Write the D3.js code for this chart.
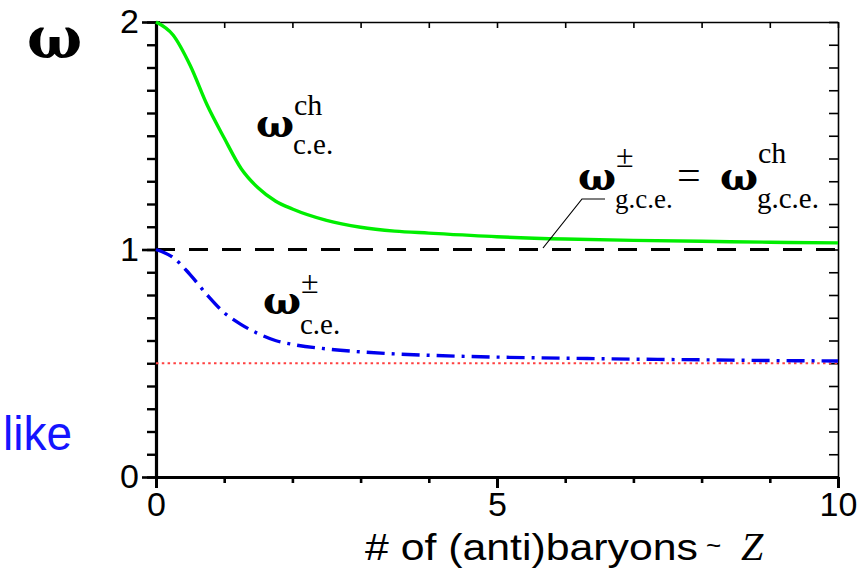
<!DOCTYPE html>
<html>
<head>
<meta charset="utf-8">
<script src="https://cdn.jsdelivr.net/npm/d3@7"></script>
<style>
  body { margin: 0; background: #fff; }
  svg { display: block; }
  .serif { font-family: 'Liberation Serif', 'DejaVu Serif', 'Times New Roman', serif; }
  .greek { font-family: 'DejaVu Serif', 'Liberation Serif', serif; }
  .sans { font-family: 'Liberation Sans', Arial, sans-serif; }
</style>
</head>
<body>
<div id="chart"></div>
<script>
// values
const nBaryons = [0, 0.25, 0.5, 0.75, 1, 1.25, 1.5, 1.75, 2, 2.5, 3, 3.5, 4, 5, 6, 7, 8, 9, 10]
const omegaCh = [2.0, 1.943, 1.81, 1.635, 1.49, 1.355, 1.27, 1.213, 1.178, 1.128, 1.098, 1.081, 1.072, 1.056, 1.046, 1.040, 1.036, 1.032, 1.029]
const omegaPm = [1.0, 0.965, 0.89, 0.80, 0.722, 0.67, 0.63, 0.60, 0.583, 0.563, 0.550, 0.541, 0.535, 0.527, 0.522, 0.518, 0.515, 0.512, 0.510]
const gceLevel = 1
const halfLevel = 0.5
const xTicks = [0, 5, 10]
const yTicks = [0, 1, 2]

const width = 866
const height = 570
const dim = { left: 156, right: 838, top: 22, bottom: 477 }

const svg = d3.select('#chart').append('svg')
    .attr('width', width).attr('height', height)

const x = d3.scaleLinear().domain([0, 10]).range([dim.left, dim.right])
const y = d3.scaleLinear().domain([0, 2]).range([dim.bottom, dim.top])

const minorY = d3.range(0, 21).map(d => d / 10)
const minorX = d3.range(0, 11)

// frame: top and right thin
const topAxis = svg.append('g').attr('transform', `translate(0,${dim.top})`)
    .call(d3.axisBottom(x).tickValues(minorX).tickSize(6).tickSizeOuter(0).tickFormat(''))
topAxis.select('.domain').attr('stroke-width', 1.6)
topAxis.selectAll('.tick line').attr('stroke-width', 1.6)

const rightAxis = svg.append('g').attr('transform', `translate(${dim.right},0)`)
    .call(d3.axisLeft(y).tickValues(minorY).tickSize(9).tickSizeOuter(0).tickFormat(''))
rightAxis.select('.domain').attr('stroke-width', 1.6)
rightAxis.selectAll('.tick line').attr('stroke-width', 1.6)

// left axis, thick
const leftAxis = svg.append('g').attr('transform', `translate(${dim.left},0)`)
    .call(d3.axisLeft(y).tickValues(minorY).tickSize(9).tickSizeOuter(0).tickFormat(''))
leftAxis.select('.domain').attr('stroke-width', 3.2)
leftAxis.selectAll('.tick line').attr('stroke-width', 2.4)
const leftMajor = svg.append('g').attr('transform', `translate(${dim.left + 4},0)`)
    .call(d3.axisLeft(y).tickValues(yTicks).tickSize(18).tickPadding(3).tickFormat(d3.format('d')))
leftMajor.select('.domain').remove()
leftMajor.selectAll('.tick line').attr('stroke-width', 2.6)
leftMajor.selectAll('.tick text').attr('class', 'sans').attr('font-size', 34).attr('fill', '#000')

// bottom axis, thick
const bottomAxis = svg.append('g').attr('transform', `translate(0,${dim.bottom})`)
    .call(d3.axisBottom(x).tickValues(minorX).tickSize(6).tickSizeOuter(0).tickFormat(''))
bottomAxis.select('.domain').attr('stroke-width', 3.2)
bottomAxis.selectAll('.tick line').attr('stroke-width', 2.6)
const bottomMajor = svg.append('g').attr('transform', `translate(0,${dim.bottom})`)
    .call(d3.axisBottom(x).tickValues(xTicks).tickSize(11).tickPadding(4).tickFormat(d3.format('d')))
bottomMajor.select('.domain').remove()
bottomMajor.selectAll('.tick line').attr('stroke-width', 3)
bottomMajor.selectAll('.tick text').attr('class', 'sans').attr('font-size', 34).attr('fill', '#000')

// reference lines
svg.append('line')
    .attr('x1', x(0)).attr('x2', x(10))
    .attr('y1', y(halfLevel)).attr('y2', y(halfLevel))
    .attr('stroke', '#ff4040').attr('stroke-width', 2)
    .attr('stroke-dasharray', '2.5,3.3')
svg.append('line')
    .attr('x1', x(0)).attr('x2', x(10))
    .attr('y1', y(gceLevel)).attr('y2', y(gceLevel))
    .attr('stroke', '#000').attr('stroke-width', 3)
    .attr('stroke-dasharray', '19,14')

const line = d3.line().x(d => x(d[0])).y(d => y(d[1])).curve(d3.curveMonotoneX)

svg.append('path')
    .datum(nBaryons.map((n, i) => [n, omegaCh[i]]))
    .attr('d', line)
    .attr('fill', 'none').attr('stroke', '#00ee00').attr('stroke-width', 3.4)

svg.append('path')
    .datum(nBaryons.map((n, i) => [n, omegaPm[i]]))
    .attr('d', line)
    .attr('fill', 'none').attr('stroke', '#0000ee').attr('stroke-width', 3.4)
    .attr('stroke-dasharray', '18,7,3,7')

// y label
svg.append('text').attr('class', 'greek')
    .attr('x', 27).attr('y', 58)
    .attr('font-size', 58).attr('font-weight', 'bold')
    .text('ω')

// stray blue word at left edge
svg.append('text').attr('class', 'sans')
    .attr('x', 3).attr('y', 450)
    .attr('font-size', 48).attr('fill', '#1414ff')
    .attr('textLength', 69).attr('lengthAdjust', 'spacingAndGlyphs')
    .text('like')

// x label
svg.append('text').attr('class', 'sans')
    .attr('x', 365).attr('y', 560).attr('font-size', 36)
    .attr('textLength', 333).attr('lengthAdjust', 'spacingAndGlyphs')
    .text('# of (anti)baryons')
svg.append('text').attr('class', 'sans')
    .attr('x', 706).attr('y', 554).attr('font-size', 26)
    .text('~')
svg.append('text').attr('class', 'serif')
    .attr('x', 741).attr('y', 560).attr('font-size', 40).attr('font-style', 'italic')
    .text('Z')

// omega labels
function omegaLabel(xp, yp, sup, supDy, sub, subDy, subSize) {
    const g = svg.append('g').attr('class', 'serif')
    g.append('text').attr('class', 'greek').attr('x', xp).attr('y', yp)
        .attr('font-size', 40).attr('font-weight', 'bold')
        .text('ω')
    g.append('text').attr('x', xp + 38).attr('y', yp + supDy)
        .attr('font-size', sup === '±' ? 32 : 30).text(sup)
    g.append('text').attr('x', xp + 37).attr('y', yp + subDy)
        .attr('font-size', subSize).text(sub)
}
omegaLabel(256, 137, 'ch', -22, 'c.e.', 17, 29)
omegaLabel(263, 314, '±', -21, 'c.e.', 20, 29)
omegaLabel(578, 190, '±', -23, 'g.c.e.', 18, 27)
omegaLabel(720, 190, 'ch', -27, 'g.c.e.', 18, 29)
svg.append('text').attr('class', 'serif')
    .attr('x', 677).attr('y', 189)
    .attr('font-size', 42).text('=')

// leader from the label to the dashed line
svg.append('path')
    .attr('d', d3.line()([[605, 199], [582, 199], [543, 248]]))
    .attr('fill', 'none').attr('stroke', '#000').attr('stroke-width', 1.2)
</script>
</body>
</html>
